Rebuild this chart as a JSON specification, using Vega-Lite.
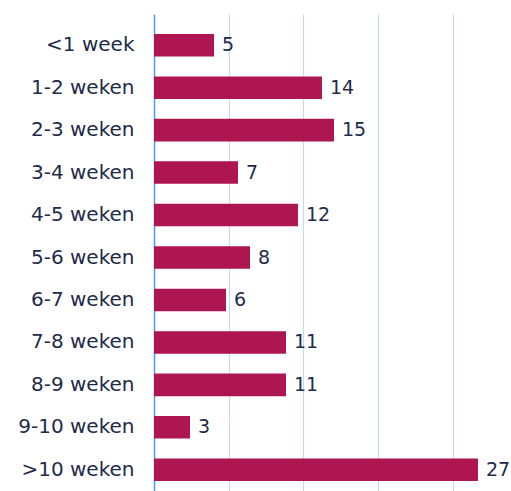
{
  "$schema": "https://vega.github.io/schema/vega-lite/v6.json",
  "autosize": "none",
  "padding": {"left": 154, "top": 14, "right": 0, "bottom": 0},
  "width": 356,
  "height": 487,
  "background": "white",
  "data": {"values": [
    {"cat": "<1 week", "v": 5},
    {"cat": "1-2 weken", "v": 14},
    {"cat": "2-3 weken", "v": 15},
    {"cat": "3-4 weken", "v": 7},
    {"cat": "4-5 weken", "v": 12},
    {"cat": "5-6 weken", "v": 8},
    {"cat": "6-7 weken", "v": 6},
    {"cat": "7-8 weken", "v": 11},
    {"cat": "8-9 weken", "v": 11},
    {"cat": "9-10 weken", "v": 3},
    {"cat": ">10 weken", "v": 27}
  ]},
  "encoding": {
    "y": {"field": "cat", "type": "nominal", "sort": null,
      "scale": {"paddingInner": 0.47, "paddingOuter": 0.47},
      "axis": {"title": null, "ticks": false, "domain": true, "domainColor": "#4a9fd8", "domainWidth": 1.5,
        "labelPadding": 20, "labelFontSize": 20, "labelFont": "DejaVu Sans", "labelColor": "#1e2b4a", "grid": false}},
    "x": {"field": "v", "type": "quantitative",
      "scale": {"domain": [0, 29.67], "nice": false, "zero": true},
      "axis": {"title": null, "labels": false, "ticks": false, "domain": false, "grid": true,
        "values": [6.225, 12.45, 18.675, 24.9], "gridColor": "#c6dbf0", "gridWidth": 1.2}}
  },
  "layer": [
    {"mark": {"type": "bar", "color": "#ad1650"}},
    {"mark": {"type": "text", "align": "left", "dx": 8, "fontSize": 19, "font": "DejaVu Sans", "color": "#1e2b4a"},
      "encoding": {"text": {"field": "v", "type": "quantitative"}}}
  ],
  "config": {"view": {"stroke": null}}
}
